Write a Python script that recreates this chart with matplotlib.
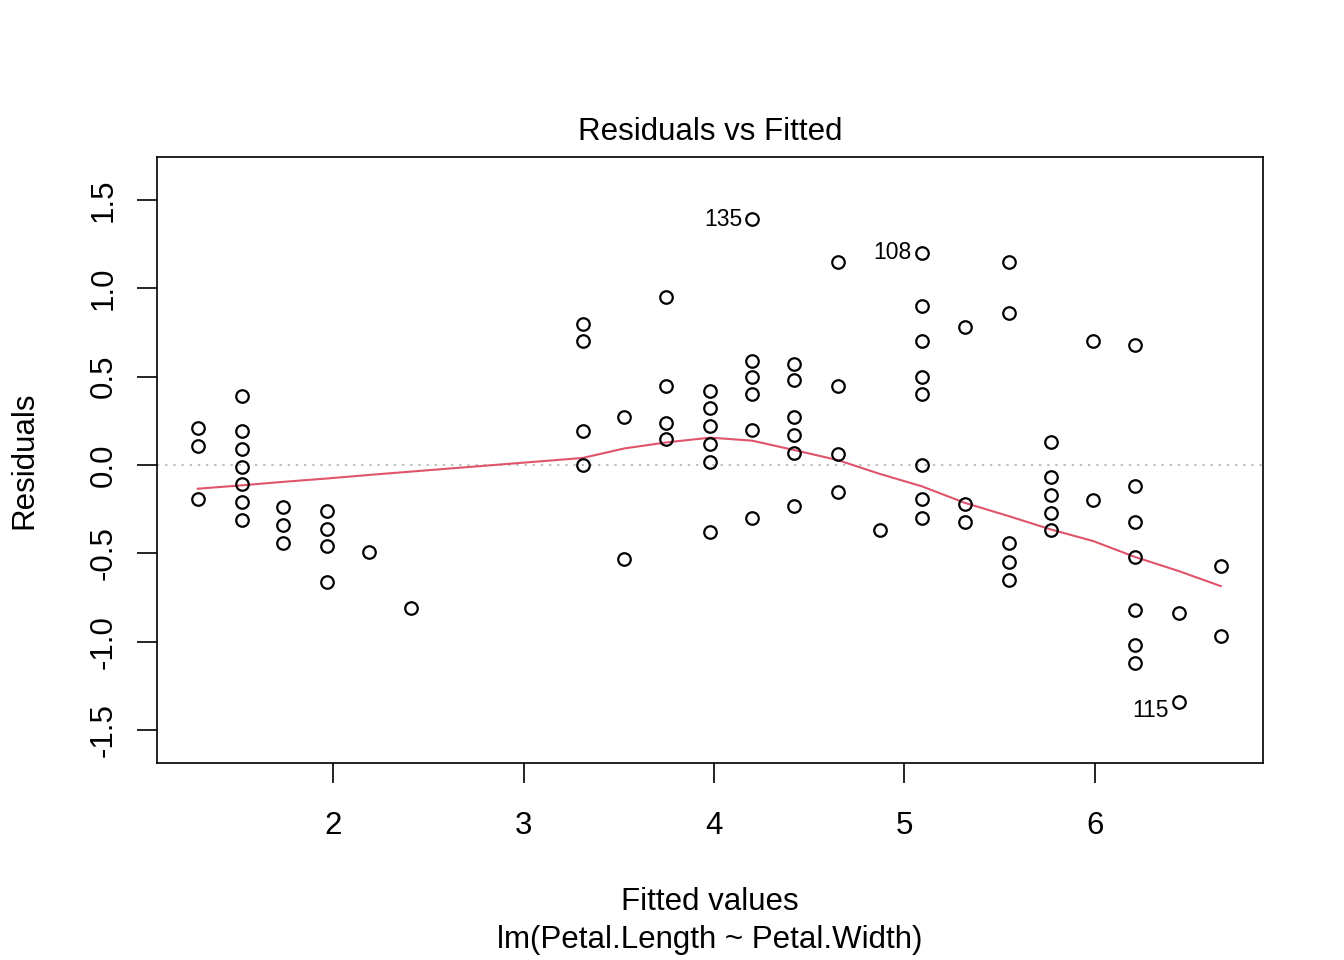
import matplotlib
matplotlib.use("Agg")
import matplotlib.pyplot as plt

# fitted value of each column of points, and the residuals seen in that column
fitted_levels = [1.29, 1.52, 1.74, 1.97, 2.19, 2.41, 3.31, 3.53, 3.75, 3.98, 4.20,
                 4.42, 4.65, 4.87, 5.09, 5.32, 5.55, 5.77, 5.99, 6.21, 6.44, 6.66]
residuals_by_level = [
    [0.21, 0.11, -0.19],
    [0.39, 0.19, 0.09, -0.01, -0.11, -0.21, -0.31],
    [-0.24, -0.34, -0.44],
    [-0.26, -0.36, -0.46, -0.66],
    [-0.49],
    [-0.81],
    [0.80, 0.70, 0.19, 0.00],
    [0.27, -0.53],
    [0.95, 0.45, 0.24, 0.15],
    [0.42, 0.32, 0.22, 0.12, 0.02, -0.38],
    [1.39, 0.59, 0.50, 0.40, 0.20, -0.30],
    [0.57, 0.48, 0.27, 0.17, 0.07, -0.23],
    [1.15, 0.45, 0.06, -0.15],
    [-0.37],
    [1.20, 0.90, 0.70, 0.50, 0.40, 0.00, -0.19, -0.30],
    [0.78, -0.22, -0.32],
    [1.15, 0.86, -0.44, -0.55, -0.65],
    [0.13, -0.07, -0.17, -0.27, -0.37],
    [0.70, -0.20],
    [0.68, -0.12, -0.32, -0.52, -0.82, -1.02, -1.12],
    [-0.84, -1.34],
    [-0.57, -0.97],
]

# red smoother
smooth_x = [1.29, 1.52, 1.74, 1.97, 2.19, 2.41, 3.31, 3.53, 3.75, 3.98, 4.20,
            4.42, 4.65, 4.87, 5.09, 5.32, 5.55, 5.77, 5.99, 6.21, 6.44, 6.66]
smooth_y = [-0.134, -0.115, -0.095, -0.076, -0.056, -0.037, 0.040, 0.094, 0.128,
            0.155, 0.138, 0.085, 0.028, -0.050, -0.120, -0.215, -0.290, -0.365,
            -0.430, -0.520, -0.600, -0.685]

# labelled outliers: (fitted, residual, label, vertical offset in points)
outliers = [(4.20, 1.39, "135", 0), (5.09, 1.20, "108", 0), (6.44, -1.34, "115", -6)]

xticks = [2, 3, 4, 5, 6]
yticks = [-1.5, -1.0, -0.5, 0.0, 0.5, 1.0, 1.5]

plt.rcParams['font.family'] = ['Liberation Sans', 'DejaVu Sans']

fig = plt.figure(figsize=(13.44, 9.6), dpi=100)
ax = fig.add_axes([157 / 1344, 1 - 763 / 960, (1263 - 157) / 1344, (763 - 157) / 960])

xs, ys = [], []
for fx, res in zip(fitted_levels, residuals_by_level):
    xs += [fx] * len(res)
    ys += res

ax.axhline(0, color="#bebebe", linestyle=(0, (1.2, 3)), linewidth=1.4, zorder=1)
ax.plot(xs, ys, linestyle="none", marker="o", markersize=9,
        markerfacecolor="none", markeredgecolor="black", markeredgewidth=1.6, zorder=3)
ax.plot(smooth_x, smooth_y, color="#DF536B", linewidth=1.5, zorder=2)

for fx, r, lab, dy in outliers:
    ax.annotate(lab, (fx, r), xytext=(-7, dy), textcoords="offset points",
                ha="right", va="center", fontsize=16.5)

ax.set_xlim(1.076, 6.882)
ax.set_ylim(-1.686, 1.743)
ax.set_xticks(xticks)
ax.set_xticklabels([str(t) for t in xticks])
ax.set_yticks(yticks)
ax.set_yticklabels([f"{t:.1f}" for t in yticks], rotation=90, va="center")
ax.tick_params(axis="both", direction="out", length=14.5, width=1.2, labelsize=22.5)
ax.tick_params(axis="x", pad=20)
ax.tick_params(axis="y", pad=13)
for sp in ax.spines.values():
    sp.set_linewidth(1.2)

cx = (157 + 1263) / 2 / 1344
fig.text(cx, 1 - 132 / 960, "Residuals vs Fitted", ha="center", va="center", fontsize=22.5)
fig.text(cx, 1 - 902 / 960, "Fitted values", ha="center", va="center", fontsize=22.5)
fig.text(cx, 1 - 940 / 960, "lm(Petal.Length ~ Petal.Width)", ha="center", va="center", fontsize=22.5)
fig.text(24 / 1344, 1 - 460 / 960, "Residuals", ha="center", va="center", rotation=90, fontsize=22.5)

fig.savefig("out.png", dpi=100)
